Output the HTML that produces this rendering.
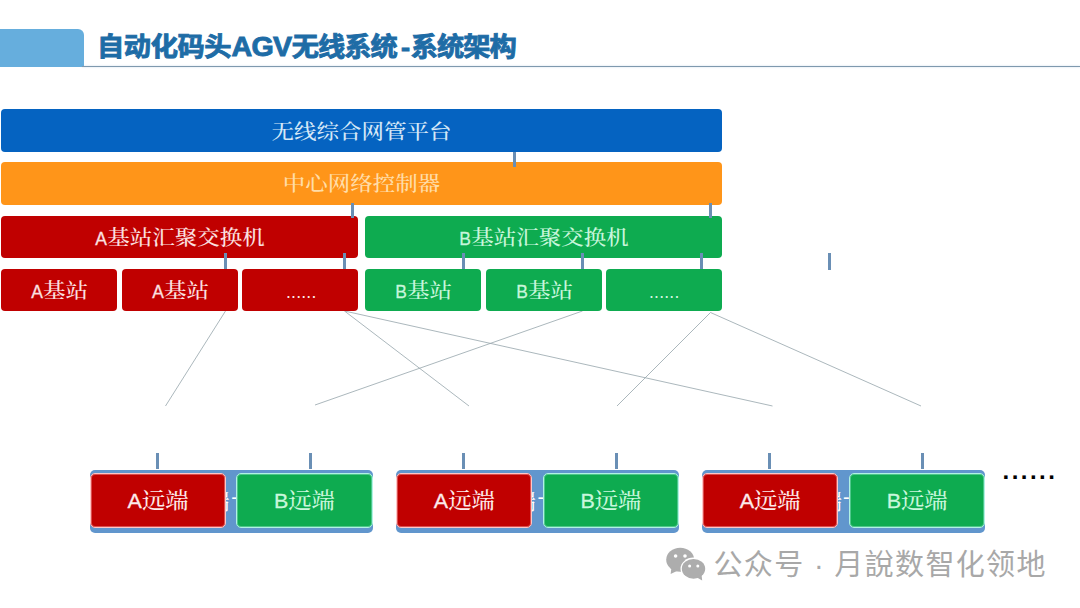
<!DOCTYPE html>
<html lang="zh-CN">
<head>
<meta charset="utf-8">
<title>自动化码头AGV无线系统-系统架构</title>
<style>
html,body{margin:0;padding:0;background:#fff;}
body{width:1080px;height:608px;position:relative;overflow:hidden;font-family:"Liberation Sans","Noto Sans CJK SC",sans-serif;}
.abs{position:absolute;}
.tab{left:0;top:29px;width:83.5px;height:37.5px;background:#66aedd;border-top-right-radius:6px;}
.hline{left:82px;top:66px;width:998px;height:1px;background:#7f99ae;box-shadow:0 0 1.5px rgba(120,160,200,.6);}
.title{left:97.2px;top:27.3px;height:40px;line-height:40px;font-size:26.2px;font-weight:bold;color:#1e6ca6;-webkit-text-stroke:0.9px #1e6ca6;white-space:nowrap;font-family:"Liberation Sans","Noto Sans CJK SC",sans-serif;transform:scaleX(1.04);transform-origin:0 0;}
.title .c{letter-spacing:-1px;margin-right:1px;}
.title .c1{letter-spacing:-0.38px;margin-right:0.38px;}
.title .l{font-size:27.5px;letter-spacing:-0.75px;margin:0 0.6px 0 0;}
.title .h{display:inline-block;width:12px;padding-right:0.7px;text-align:right;}
.box{position:absolute;border-radius:4px;color:#fff;text-align:center;white-space:nowrap;font-family:"Liberation Sans","Noto Serif CJK SC",serif;font-size:22.5px;font-weight:500;}
.box .t{display:inline-block;transform:translateY(0.9px) scaleY(0.91);transform-origin:50% 78%;}
.box .la{font-size:19.4px;-webkit-text-stroke:0.3px currentColor;display:inline-block;transform:scaleX(0.9);transform-origin:100% 50%;}
.blue{background:#0563c1;color:#d6e8f7;}
.orange{background:#ff9519;color:#ffdda8;}
.red{background:#c00000;color:#fbe0e0;}
.green{background:#0eab50;color:#c8f6db;}
.tick{position:absolute;background:#6a8fb5;}
.grp{position:absolute;background:#6196cd;border-radius:5px;color:#fff;text-align:center;white-space:nowrap;font-family:"Liberation Sans","Noto Serif CJK SC",serif;font-size:23.3px;}
.rbox{position:absolute;border-radius:5px;box-sizing:border-box;text-align:center;white-space:nowrap;font-family:"Liberation Sans","Noto Serif CJK SC",serif;font-size:23.3px;font-weight:500;}
.grp span{position:absolute;top:0;}
.grp .g1{right:143.2px;transform:scaleY(0.94);transform-origin:50% 78%;}
.grp .g2{left:141.2px;top:-3.2px;font-size:20px;}
.rbox .t{display:inline-block;transform:scaleY(0.94);transform-origin:50% 78%;}
.rbox .la{font-size:21.5px;-webkit-text-stroke:0.3px currentColor;}
.rred{background:#c00000;border:1px solid #ffc6c6;box-shadow:inset 0 0 0 1px rgba(255,198,198,0.4);color:#fdeaea;}
.rgreen{background:#0eab50;border:1px solid #b0f2e4;box-shadow:inset 0 0 0 1px rgba(176,242,228,0.4);color:#c9f7dc;}
.dots{position:absolute;font-family:"Liberation Sans",sans-serif;white-space:nowrap;}
.wm{position:absolute;left:713.5px;top:546.3px;height:38px;line-height:38px;font-size:29px;letter-spacing:1.35px;color:#a8a8a8;white-space:nowrap;font-family:"Liberation Sans","Noto Sans CJK SC",sans-serif;font-weight:400;}
svg{position:absolute;left:0;top:0;}
</style>
</head>
<body>
<div class="abs tab"></div>
<div class="abs hline"></div>
<div class="abs title"><span class="c c1">自动化码头</span><span class="l">AGV</span><span class="c">无线系统</span><span class="h">-</span><span class="c">系统架构</span></div>

<svg width="1080" height="608" viewBox="0 0 1080 608">
  <g stroke="#96a5ab" stroke-width="0.8" fill="none">
    <line x1="225.5" y1="311" x2="165.5" y2="406"/>
    <line x1="344.5" y1="311" x2="469" y2="406"/>
    <line x1="344.5" y1="311" x2="772.5" y2="406"/>
    <line x1="582.5" y1="311" x2="315" y2="405"/>
    <line x1="710.5" y1="312.5" x2="617" y2="406"/>
    <line x1="710.5" y1="312.5" x2="921" y2="406"/>
  </g>
</svg>

<div class="box blue" style="left:1px;top:109px;width:721px;height:43px;line-height:43px;"><span class="t">无线综合网管平台</span></div>
<div class="box orange" style="left:1px;top:162.4px;width:721px;height:42.2px;line-height:42.2px;"><span class="t">中心网络控制器</span></div>
<div class="box red" style="left:1px;top:215.6px;width:357px;height:42.4px;line-height:42.4px;"><span class="t"><span class="la">A</span>基站汇聚交换机</span></div>
<div class="box green" style="left:365px;top:215.6px;width:357px;height:42.4px;line-height:42.4px;"><span class="t"><span class="la">B</span>基站汇聚交换机</span></div>
<div class="box red" style="left:1px;top:268.7px;width:116px;height:42.4px;line-height:42.4px;"><span class="t"><span class="la">A</span>基站</span></div>
<div class="box red" style="left:122px;top:268.7px;width:116px;height:42.4px;line-height:42.4px;"><span class="t"><span class="la">A</span>基站</span></div>
<div class="box red" style="left:242px;top:268.7px;width:116px;height:42.4px;line-height:42.4px;"></div>
<div class="box green" style="left:365px;top:268.7px;width:116px;height:42.4px;line-height:42.4px;"><span class="t"><span class="la">B</span>基站</span></div>
<div class="box green" style="left:486px;top:268.7px;width:116px;height:42.4px;line-height:42.4px;"><span class="t"><span class="la">B</span>基站</span></div>
<div class="box green" style="left:606px;top:268.7px;width:116px;height:42.4px;line-height:42.4px;"></div>
<div class="dots" style="left:286px;top:282.2px;font-size:17.6px;letter-spacing:0.2px;line-height:20px;color:#fbe9e9;">......</div>
<div class="dots" style="left:649px;top:282.2px;font-size:17.6px;letter-spacing:0.2px;line-height:20px;color:#d5f7e2;">......</div>
<div class="tick" style="left:513.0px;top:152px;height:15px;width:3px;"></div>
<div class="tick" style="left:351.3px;top:202.5px;height:15.5px;width:3px;"></div>
<div class="tick" style="left:708.5px;top:202.5px;height:15.5px;width:3px;"></div>
<div class="tick" style="left:224.1px;top:253px;height:16px;width:3px;"></div>
<div class="tick" style="left:342.5px;top:253px;height:16px;width:3px;"></div>
<div class="tick" style="left:461.5px;top:253px;height:16px;width:3px;"></div>
<div class="tick" style="left:581.0px;top:253px;height:16px;width:3px;"></div>
<div class="tick" style="left:700.0px;top:253px;height:16px;width:3px;"></div>
<div class="tick" style="left:827.5px;top:253px;height:17px;width:3px;"></div>
<div class="tick" style="left:156.0px;top:453px;height:16px;width:3px;"></div>
<div class="tick" style="left:308.9px;top:453px;height:16px;width:3px;"></div>
<div class="tick" style="left:461.5px;top:453px;height:16px;width:3px;"></div>
<div class="tick" style="left:614.7px;top:453px;height:16px;width:3px;"></div>
<div class="tick" style="left:767.7px;top:453px;height:16px;width:3px;"></div>
<div class="tick" style="left:920.8px;top:453px;height:16px;width:3px;"></div>
<div class="grp" style="left:90px;top:470.2px;width:282.8px;height:62.4px;line-height:60.4px;"><span class="g1">远端</span><span class="g2">-AGV</span></div>
<div class="rbox rred" style="left:90px;top:473.2px;width:136px;height:54.6px;line-height:52.6px;"><span class="t"><span class="la">A</span>远端</span></div>
<div class="rbox rgreen" style="left:236px;top:473.2px;width:136.8px;height:54.6px;line-height:52.6px;"><span class="t"><span class="la">B</span>远端</span></div>
<div class="grp" style="left:396.3px;top:470.2px;width:282.8px;height:62.4px;line-height:60.4px;"><span class="g1">远端</span><span class="g2">-AGV</span></div>
<div class="rbox rred" style="left:396.3px;top:473.2px;width:136px;height:54.6px;line-height:52.6px;"><span class="t"><span class="la">A</span>远端</span></div>
<div class="rbox rgreen" style="left:542.8px;top:473.2px;width:136.3px;height:54.6px;line-height:52.6px;"><span class="t"><span class="la">B</span>远端</span></div>
<div class="grp" style="left:701.8px;top:470.2px;width:283.4px;height:62.4px;line-height:60.4px;"><span class="g1">远端</span><span class="g2">-AGV</span></div>
<div class="rbox rred" style="left:701.8px;top:473.2px;width:136.6px;height:54.6px;line-height:52.6px;"><span class="t"><span class="la">A</span>远端</span></div>
<div class="rbox rgreen" style="left:849px;top:473.2px;width:136.2px;height:54.6px;line-height:52.6px;"><span class="t"><span class="la">B</span>远端</span></div>
<div class="dots" style="left:1002.6px;top:459.2px;font-size:24px;line-height:24px;letter-spacing:2.45px;color:#000;font-weight:bold;">......</div>

<svg width="1080" height="608" viewBox="0 0 1080 608" style="pointer-events:none">
  <g fill="#adadad">
    <ellipse cx="680.2" cy="559.7" rx="14" ry="12"/>
    <path d="M671.5 567.5 L670.6 574 L678 570.6 Z"/>
    <circle cx="675.6" cy="556" r="1.8" fill="#fff"/>
    <circle cx="685" cy="556" r="1.8" fill="#fff"/>
    <ellipse cx="693.5" cy="568.8" rx="13" ry="11.2" fill="#fff"/>
    <ellipse cx="693.5" cy="568.8" rx="11.7" ry="9.9"/>
    <path d="M697 577.5 L702.2 580.6 L701.6 575 Z"/>
    <circle cx="689.6" cy="565.9" r="1.5" fill="#fff"/>
    <circle cx="697.8" cy="565.9" r="1.5" fill="#fff"/>
  </g>
</svg>
<div class="wm">公众号 · 月說数智化领地</div>
</body>
</html>
